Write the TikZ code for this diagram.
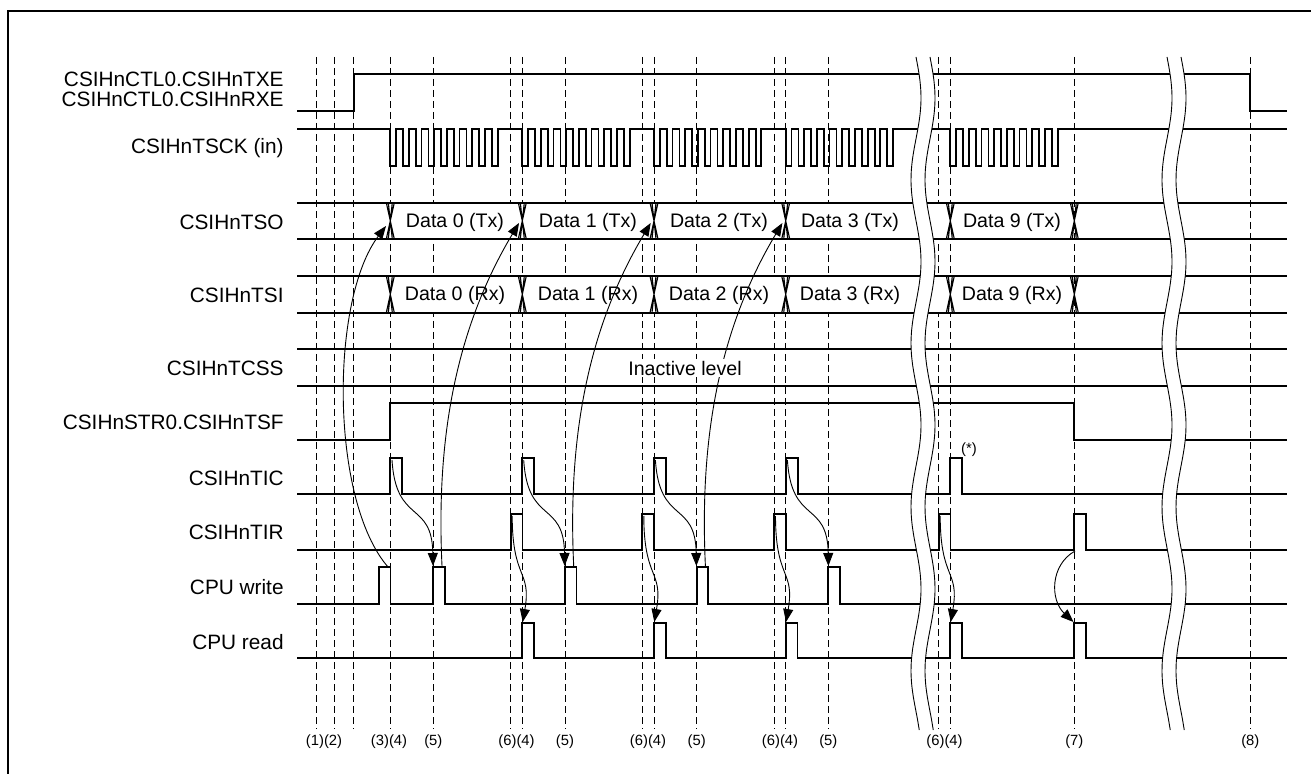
\documentclass[tikz,border=0pt]{standalone}
\usepackage{fontspec}
\setmainfont{Liberation Sans}
\usetikzlibrary{arrows.meta}
\begin{document}
\begin{tikzpicture}[x=0.5pt,y=-0.5pt,
  sig/.style={line width=0.9pt, line join=miter},
  xl/.style={line width=0.55pt},
  gridline/.style={line width=0.4pt, dash pattern=on 3.5pt off 2pt},
  arr/.style={line width=0.45pt, -{Triangle[length=6.5pt,width=5pt]}},
  lab/.style={anchor=east, inner sep=0pt, font=\fontsize{10.4}{12}\selectfont},
  dat/.style={inner sep=0pt, font=\fontsize{9.8}{12}\selectfont},
  num/.style={inner sep=0pt, font=\fontsize{7.4}{9}\selectfont}]
\useasboundingbox (0,0) rectangle (1311,774);
% frame
\draw[line width=0.9pt] (8,774) -- (8,11) -- (1311,11);
% dashed time markers
\foreach \x in {316.7,334,353.7,390.3,433.3,510.7,522.3,565,642.3,654,696.7,774,785.7,828.3,938.7,950.3,1074.3,1250.3}
  \draw[gridline] (\x,57) -- (\x,729);
% signal labels
\node[lab] (txe) at (284,79) {CSIHnCTL0.CSIHnTXE};
\node[lab] (rxe) at (284,99) {CSIHnCTL0.CSIHnRXE};
\node[lab] (sck) at (284,148) {CSIHnTSCK (in)};
\node[lab] (tso) at (284,222) {CSIHnTSO};
\node[lab] (tsi) at (284,295) {CSIHnTSI};
\node[lab] (tcss) at (284,368) {CSIHnTCSS};
\node[lab] (tsf) at (284,422) {CSIHnSTR0.CSIHnTSF};
\node[lab] (tic) at (284,478) {CSIHnTIC};
\node[lab] (tir) at (284,532) {CSIHnTIR};
\node[lab] (wr) at (284,587) {CPU write};
\node[lab] (rd) at (284,642) {CPU read};
% TXE/RXE
\draw[sig] (297,111) -- (353.7,111) -- (353.7,74.3) -- (1250.3,74.3) -- (1250.3,111) -- (1287,111);
% clock
\draw[sig] (297,129) foreach \s in {390.3,522.3,654,785.7,950.3} { foreach \k in {0,...,8} {
  -- (\s+\k*12.7,129) -- (\s+\k*12.7,165.7) -- (\s+\k*12.7+5.7,165.7) -- (\s+\k*12.7+5.7,129) } } -- (1287,129);
% data buses
\foreach \t/\b in {202.7/239, 276/312.7} {
  \fill[white] (390.3,\t) rectangle (1074.3,\b);
  \draw[sig] (297,\t) -- (1287,\t);
  \draw[sig] (297,\b) -- (1287,\b);
  \foreach \x in {390.3,522.3,654,785.7,950.3,1074.3}
    \draw[xl] (\x-4,\t) -- (\x+4,\b) (\x+4,\t) -- (\x-4,\b) (\x-2,\t) -- (\x+2,\b) (\x+2,\t) -- (\x-2,\b);
}
\node[dat] (d0t) at (455,222) {Data 0 (Tx)};
\node[dat] (d1t) at (588,222) {Data 1 (Tx)};
\node[dat] (d2t) at (719,222) {Data 2 (Tx)};
\node[dat] (d3t) at (850,222) {Data 3 (Tx)};
\node[dat] (d9t) at (1012,222) {Data 9 (Tx)};
\node[dat] (d0r) at (455,295) {Data 0 (Rx)};
\node[dat] (d1r) at (588,295) {Data 1 (Rx)};
\node[dat] (d2r) at (719,295) {Data 2 (Rx)};
\node[dat] (d3r) at (850,295) {Data 3 (Rx)};
\node[dat] (d9r) at (1012,295) {Data 9 (Rx)};
% TCSS
\draw[sig] (297,349) -- (1287,349);
\draw[sig] (297,386) -- (1287,386);
% TSF
\draw[sig] (297,440) -- (390.3,440) -- (390.3,403.3) -- (1074.3,403.3) -- (1074.3,440) -- (1287,440);
% TIC
\draw[sig] (297,494) foreach \x in {390.3,522.3,654,785.7,950.3} { -- (\x,494) -- (\x,457.7) -- (\x+12,457.7) -- (\x+12,494) } -- (1287,494);
% TIR
\draw[sig] (297,550) foreach \x in {510.7,642.3,774,938.7,1074.3} { -- (\x,550) -- (\x,513.7) -- (\x+11.7,513.7) -- (\x+11.7,550) } -- (1287,550);
% CPU write
\draw[sig] (297,604) foreach \x in {379,433.3,565,696.7,828.3} { -- (\x,604) -- (\x,567.3) -- (\x+11.5,567.3) -- (\x+11.5,604) } -- (1287,604);
% CPU read
\draw[sig] (297,658.3) foreach \x in {522.3,654,785.7,950.3,1074.3} { -- (\x,658.3) -- (\x,623.3) -- (\x+11.7,623.3) -- (\x+11.7,658.3) } -- (1287,658.3);
% wavy breaks
\foreach \c in {923,1174} {
  \fill[white] plot[domain=57:730,samples=60,smooth] ({\c-7+5*sin((\x-57)*2.2)},\x)
     -- plot[domain=730:57,samples=60,smooth] ({\c+7+5*sin((\x-57)*2.2)},\x) -- cycle;
  \draw[line width=0.45pt] plot[domain=57:730,samples=60,smooth] ({\c-7+5*sin((\x-57)*2.2)},\x);
  \draw[line width=0.45pt] plot[domain=57:730,samples=60,smooth] ({\c+7+5*sin((\x-57)*2.2)},\x);
}
% arrows: write -> TSO
\draw[arr] (388,567) .. controls (330,500) and (330,300) .. (386,226);
\foreach \d in {0,131.7,263.4}
  \draw[arr] (442+\d,566) .. controls (436+\d,440) and (455+\d,330) .. (519+\d,223);
% TIC -> write
\foreach \d in {0,131.7,263.4,395.4}
  \draw[arr] (392+\d,460) .. controls (396+\d,525) and (432+\d,500) .. (433+\d,566);
% TIR -> read
\foreach \s in {510.7,642.3,774,938.7}
  \draw[arr] (\s+1.5,516) .. controls (\s+1.5,580) and (\s+21,570) .. (\s+12,622);
\draw[arr] (1075,551) .. controls (1050,565) and (1050,600) .. (1073.5,622);
% TCSS label (over the arrow)
\node[dat,fill=white,inner sep=1pt] (inact) at (685,368) {Inactive level};
% footnote mark
\node[num] (star) at (969,450) {(*)};
% time point labels
\node[num] (n12) at (324,742) {(1)(2)};
\node[num] (n34) at (389,742) {(3)(4)};
\node[num] (n5a) at (433.3,742) {(5)};
\node[num] (n64a) at (516.5,742) {(6)(4)};
\node[num] (n5b) at (565,742) {(5)};
\node[num] (n64b) at (648,742) {(6)(4)};
\node[num] (n5c) at (696.7,742) {(5)};
\node[num] (n64c) at (780,742) {(6)(4)};
\node[num] (n5d) at (828.3,742) {(5)};
\node[num] (n64d) at (944.5,742) {(6)(4)};
\node[num] (n7) at (1074.3,742) {(7)};
\node[num] (n8) at (1250.3,742) {(8)};
\end{tikzpicture}
\end{document}
